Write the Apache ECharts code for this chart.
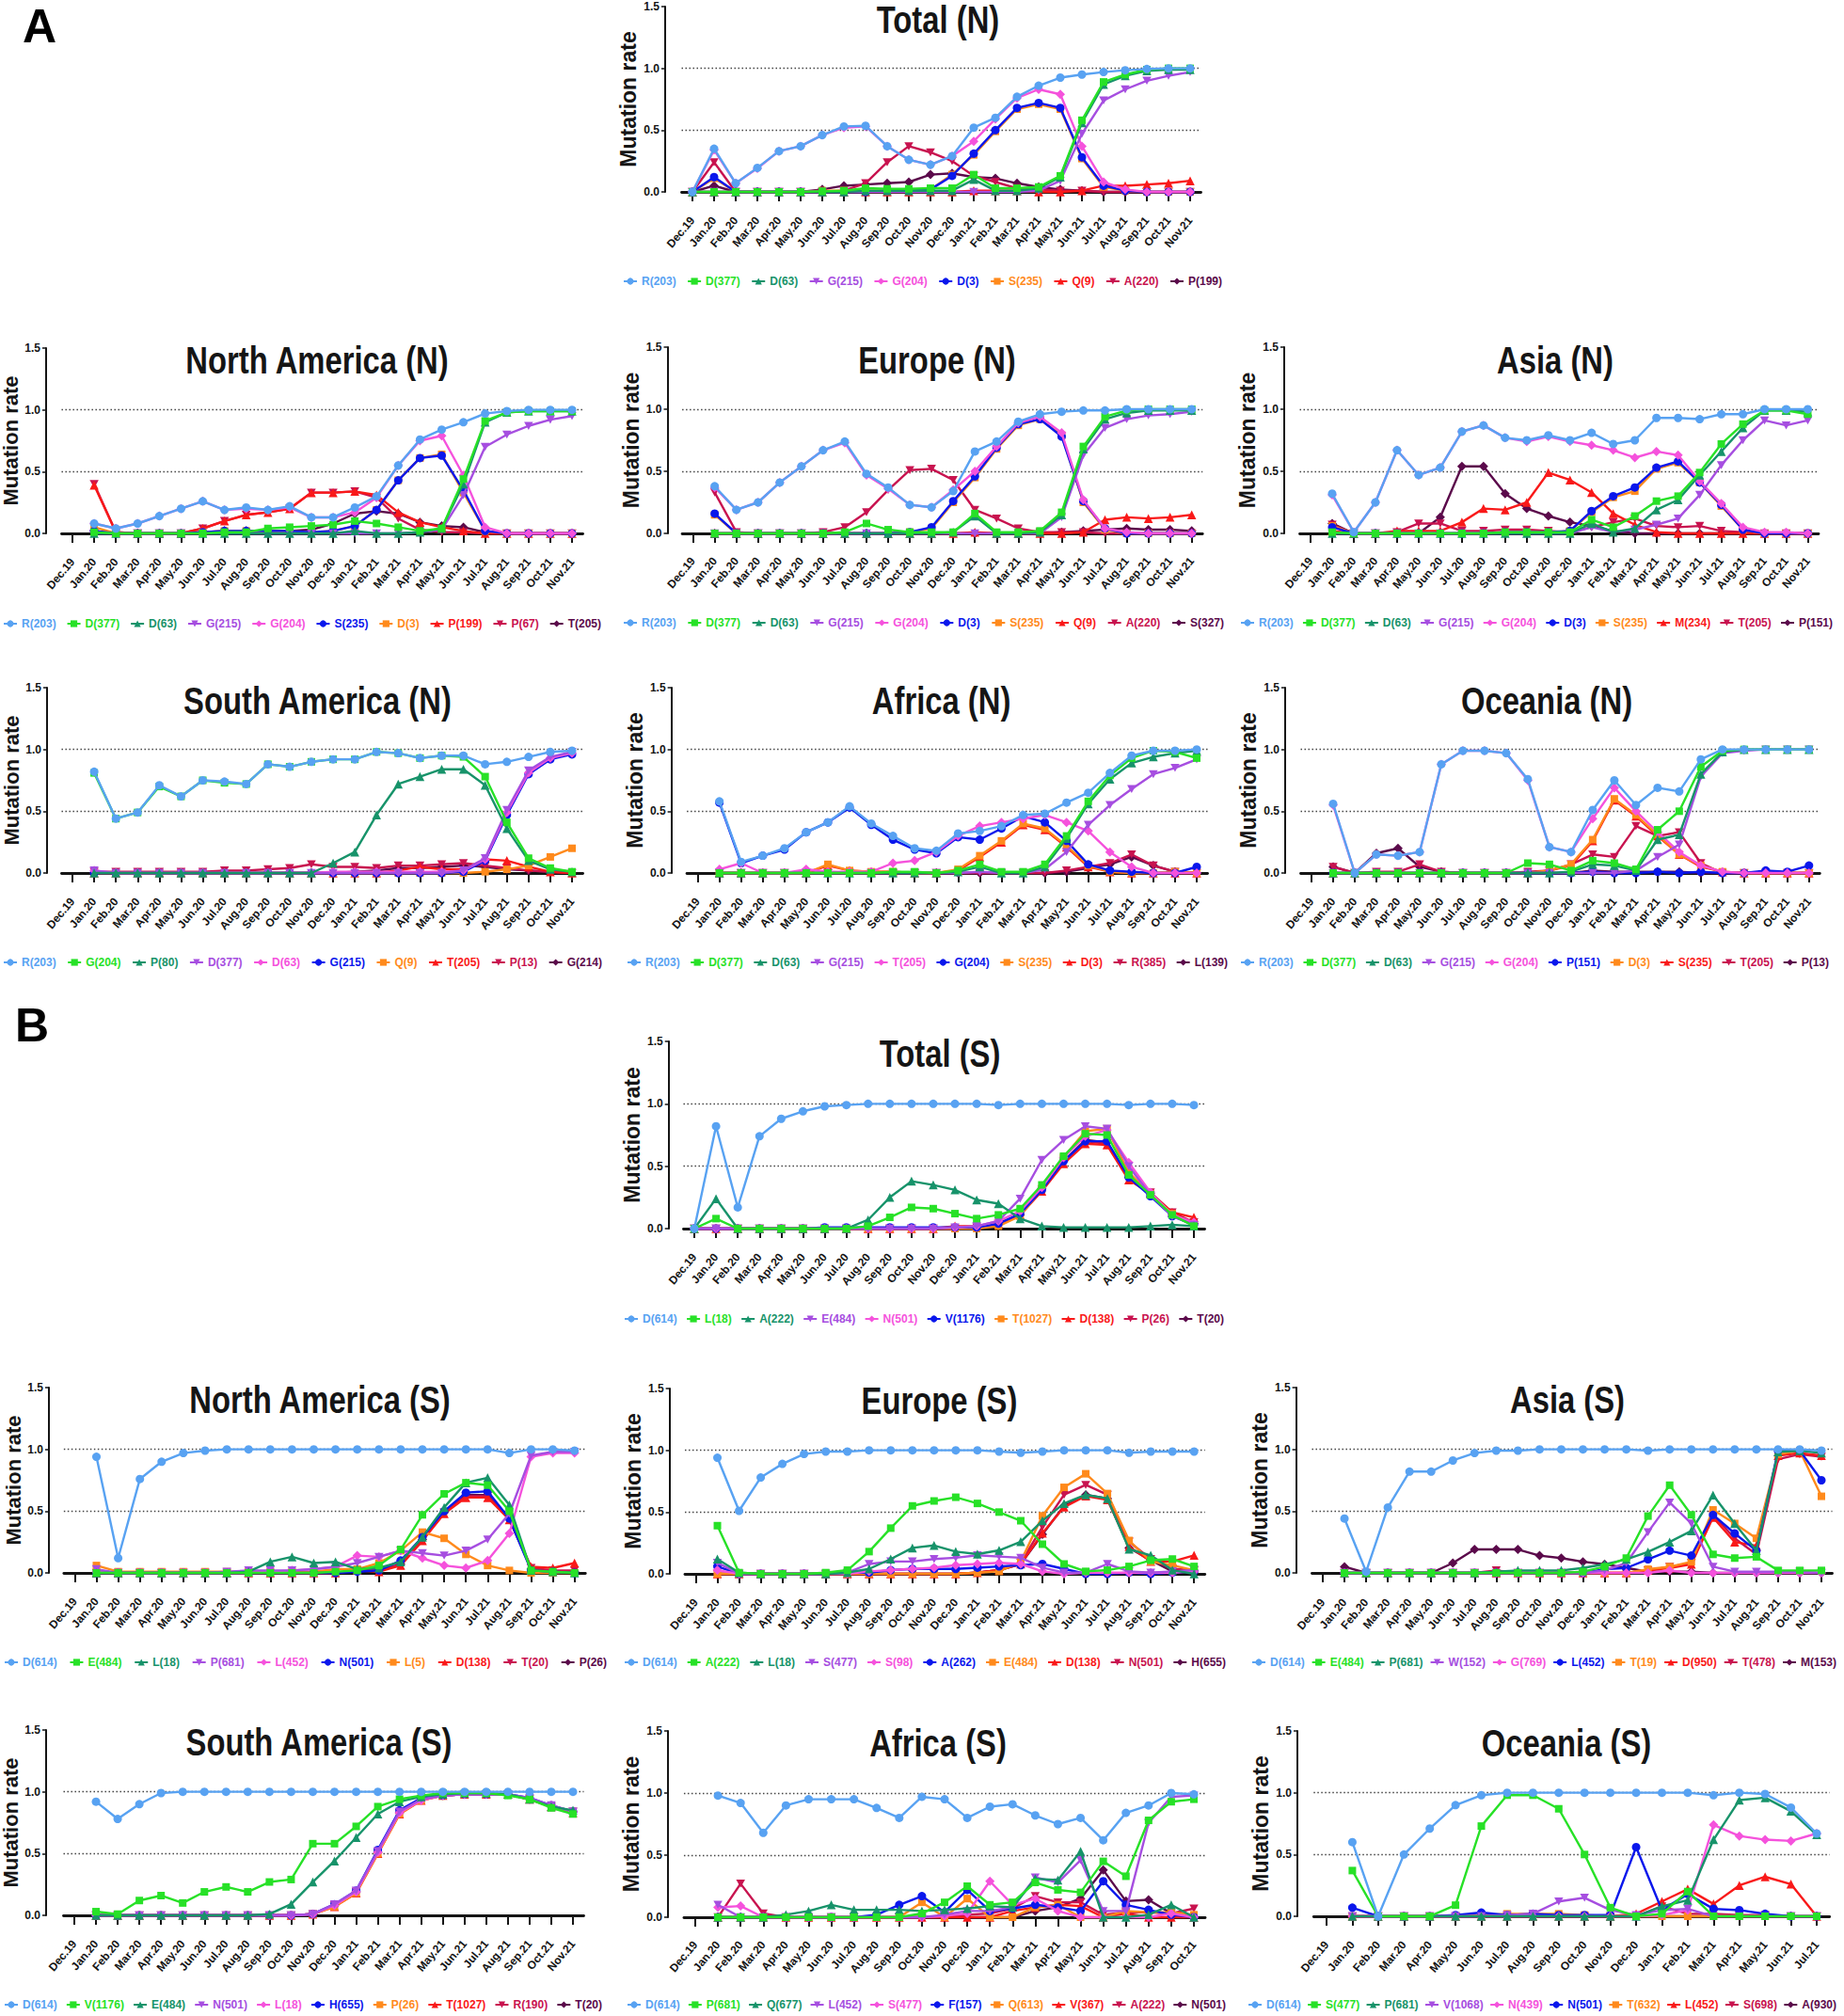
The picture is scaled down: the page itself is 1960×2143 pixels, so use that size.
<!DOCTYPE html>
<html><head><meta charset="utf-8">
<script src="https://cdn.jsdelivr.net/npm/echarts@6/dist/echarts.min.js"></script>
<style>
html,body{margin:0;padding:0;background:#fff;width:1960px;height:2143px;overflow:hidden}
.p{position:absolute;left:0;top:0;width:1960px;height:2143px}
</style>
</head><body>
<script>
const N = null;
const MONTHS = ['Dec.19','Jan.20','Feb.20','Mar.20','Apr.20','May.20','Jun.20','Jul.20','Aug.20','Sep.20','Oct.20','Nov.20','Dec.20','Jan.21','Feb.21','Mar.21','Apr.21','May.21','Jun.21','Jul.21','Aug.21','Sep.21','Oct.21','Nov.21'];
const MONTHS_TO_OCT21 = MONTHS.slice(0, 23);
const MONTHS_TO_JUL21 = MONTHS.slice(0, 20);
const Y_TICKS = [0, 0.5, 1.0, 1.5];

// ---------- Total (N)
const totN_names = ['R(203)','D(377)','D(63)','G(215)','G(204)','D(3)','S(235)','Q(9)','A(220)','P(199)'];
const totN_values = [
 [0,0.35,0.07,0.195,0.33,0.37,0.46,0.53,0.535,0.37,0.26,0.22,0.29,0.52,0.60,0.77,0.86,0.925,0.95,0.97,0.985,0.995,1.0,1.0],
 [0,0,0,0,0,0,0.005,0.01,0.03,0.025,0.025,0.03,0.03,0.14,0.03,0.03,0.04,0.13,0.58,0.89,0.95,0.99,1.0,1.0],
 [0,0,0,0,0,0,0,0,0.01,0.01,0.01,0.01,0.01,0.10,0.01,0.01,0.03,0.12,0.56,0.87,0.94,0.98,0.99,0.99],
 [0,0,0,0,0,0,0,0,0,0,0,0,0,0,0,0,0.01,0.09,0.47,0.74,0.83,0.90,0.94,0.97],
 [0,0.34,0.07,0.19,0.33,0.37,0.46,0.52,0.53,0.37,0.26,0.22,0.29,0.41,0.59,0.76,0.83,0.79,0.37,0.08,0.02,0,0,0],
 [0,0.12,0,0,0,0,0,0,0,0.01,0.01,0.02,0.13,0.31,0.50,0.68,0.72,0.68,0.28,0.05,0.01,0,0,0],
 [0,0.11,0,0,0,0,0.01,0.01,0.01,0.01,0.01,0.02,0.14,0.30,0.49,0.67,0.71,0.67,0.27,0.04,0.01,0,0,0],
 [0,0,0,0,0,0,0,0,0,0,0,0,0,0.01,0.01,0.01,0,0,0.01,0.05,0.05,0.06,0.07,0.09],
 [0,0.24,0,0,0,0,0,0.01,0.07,0.24,0.37,0.32,0.25,0.13,0.08,0.03,0.02,0.01,0.01,0,0,0,0,0],
 [0,0.05,0,0,0,0,0.02,0.05,0.06,0.07,0.08,0.14,0.15,0.12,0.11,0.07,0.04,0.02,0.01,0,0,0,0,0]
];
// ---------- North America (N)
const naN_names = ['R(203)','D(377)','D(63)','G(215)','G(204)','S(235)','D(3)','P(199)','P(67)','T(205)'];
const naN_values = [
 [N,0.08,0.04,0.08,0.14,0.20,0.26,0.19,0.21,0.19,0.22,0.13,0.13,0.21,0.30,0.55,0.76,0.84,0.90,0.97,0.99,1.0,1.0,1.0],
 [N,0.01,0,0,0,0,0,0.01,0.01,0.04,0.05,0.06,0.07,0.10,0.08,0.05,0.02,0.04,0.44,0.91,0.98,0.99,0.99,0.99],
 [N,0,0,0,0,0,0,0,0,0,0,0,0,0.02,0,0,0.01,0.04,0.40,0.90,0.98,0.99,0.99,0.99],
 [N,0,0,0,0,0,0,0,0,0,0,0,0,0,0,0,0.01,0.03,0.31,0.70,0.80,0.87,0.92,0.95],
 [N,0.08,0.04,0.08,0.14,0.20,0.26,0.19,0.20,0.19,0.21,0.13,0.13,0.17,0.29,0.55,0.75,0.79,0.47,0.05,0,0,0,0],
 [N,0.02,0,0,0,0,0.01,0.02,0.02,0.02,0.02,0.01,0.02,0.06,0.19,0.43,0.61,0.63,0.35,0.02,0,0,0,0],
 [N,0.05,0,0,0,0,0.01,0.02,0.02,0.02,0.02,0.01,0.02,0.06,0.19,0.43,0.61,0.64,0.33,0.02,0,0,0,0],
 [N,0.39,0.01,0,0,0,0.04,0.10,0.15,0.17,0.20,0.33,0.33,0.34,0.31,0.17,0.09,0.05,0.02,0,0,0,0,0],
 [N,0.40,0.01,0,0,0,0.04,0.10,0.15,0.17,0.20,0.33,0.33,0.34,0.29,0.12,0.03,0.01,0.01,0,0,0,0,0],
 [N,0.02,0,0,0,0,0.01,0.02,0.02,0.02,0.02,0.03,0.08,0.16,0.18,0.16,0.09,0.06,0.05,0.01,0,0,0,0]
];
// ---------- Europe (N)
const euN_names = ['R(203)','D(377)','D(63)','G(215)','G(204)','D(3)','S(235)','Q(9)','A(220)','S(327)'];
const euN_values = [
 [N,0.38,0.19,0.25,0.41,0.54,0.67,0.74,0.48,0.37,0.23,0.21,0.34,0.66,0.74,0.90,0.96,0.98,0.99,0.99,1.0,1.0,1.0,1.0],
 [N,0,0,0,0,0,0,0.01,0.08,0.03,0.01,0.01,0.01,0.16,0.01,0.01,0.02,0.17,0.70,0.94,0.99,1.0,1.0,1.0],
 [N,0,0,0,0,0,0,0,0,0,0,0,0.01,0.14,0,0,0.01,0.15,0.68,0.92,0.97,0.99,0.99,0.99],
 [N,0,0,0,0,0,0,0,0,0,0,0,0,0,0,0,0,0.13,0.63,0.85,0.92,0.95,0.96,0.98],
 [N,0.37,0.19,0.25,0.41,0.54,0.67,0.73,0.47,0.36,0.23,0.21,0.35,0.50,0.70,0.89,0.94,0.81,0.27,0.04,0.01,0,0,0],
 [N,0.16,0,0,0,0,0,0,0,0,0.01,0.05,0.26,0.46,0.69,0.88,0.92,0.78,0.26,0.04,0,0,0,0],
 [N,0.15,0,0,0,0,0,0,0,0,0.01,0.04,0.25,0.45,0.68,0.87,0.92,0.79,0.25,0.03,0,0,0,0],
 [N,0,0,0,0,0,0,0,0,0,0,0,0,0.01,0,0,0,0,0.01,0.11,0.13,0.12,0.13,0.15],
 [N,0.33,0.01,0,0,0,0.01,0.05,0.17,0.35,0.51,0.52,0.43,0.19,0.12,0.04,0.01,0.01,0.01,0,0,0,0,0],
 [N,0,0,0,0,0,0,0,0,0,0,0,0,0,0,0,0,0.01,0.02,0.03,0.04,0.03,0.03,0.02]
];
// ---------- Asia (N)
const asN_names = ['R(203)','D(377)','D(63)','G(215)','G(204)','D(3)','S(235)','M(234)','T(205)','P(151)'];
const asN_values = [
 [N,0.32,0.01,0.25,0.67,0.47,0.53,0.82,0.87,0.77,0.75,0.79,0.75,0.81,0.72,0.75,0.93,0.93,0.92,0.96,0.96,1.0,1.0,1.0],
 [N,0.01,0,0,0,0,0,0,0,0.01,0.01,0.01,0.01,0.11,0.05,0.14,0.26,0.30,0.49,0.72,0.88,0.99,0.99,0.96],
 [N,0,0,0,0,0,0,0,0,0,0,0,0,0.08,0.01,0.04,0.19,0.27,0.47,0.66,0.85,0.99,0.99,0.98],
 [N,0,0,0,0,0,0,0,0,0,0,0,0,0.05,0.01,0.03,0.07,0.12,0.31,0.55,0.75,0.91,0.87,0.91],
 [N,0.31,0.01,0.25,0.67,0.47,0.53,0.82,0.87,0.77,0.74,0.78,0.74,0.71,0.67,0.61,0.66,0.63,0.42,0.24,0.05,0.01,0.01,0],
 [N,0.05,0,0,0,0,0,0,0,0.01,0.01,0.01,0.02,0.18,0.30,0.37,0.53,0.58,0.41,0.23,0.03,0,0,0],
 [N,0.06,0,0,0,0,0,0,0,0.01,0.01,0.01,0.02,0.17,0.29,0.34,0.52,0.57,0.41,0.22,0.03,0,0,0],
 [N,0.02,0,0,0.02,0.02,0.02,0.09,0.20,0.19,0.25,0.49,0.43,0.33,0.16,0.07,0.01,0,0,0,0,0,0,0],
 [N,0.07,0,0,0.01,0.08,0.08,0.02,0.02,0.03,0.03,0.02,0.01,0.05,0.09,0.12,0.06,0.05,0.06,0.02,0.01,0,0,0],
 [N,0.08,0,0,0,0,0.13,0.54,0.54,0.32,0.20,0.14,0.09,0.06,0.02,0,0,0,0,0,0,0,0,0]
];
// ---------- South America (N)
const saN_names = ['R(203)','G(204)','P(80)','D(377)','D(63)','G(215)','Q(9)','T(205)','P(13)','G(214)'];
const saN_values = [
 [N,0.82,0.44,0.49,0.71,0.62,0.75,0.74,0.72,0.88,0.86,0.90,0.92,0.92,0.98,0.97,0.93,0.95,0.95,0.88,0.90,0.94,0.98,0.99],
 [N,0.81,0.44,0.49,0.70,0.62,0.75,0.73,0.72,0.88,0.86,0.90,0.92,0.92,0.98,0.97,0.93,0.95,0.94,0.78,0.41,0.12,0.04,0.01],
 [N,0,0,0,0,0,0,0,0,0,0,0,0.08,0.17,0.47,0.72,0.78,0.84,0.84,0.71,0.36,0.10,0.03,0.01],
 [N,0.02,0,0,0,0,0,0,0,0,0,0,0,0,0,0,0,0,0.02,0.12,0.51,0.83,0.94,0.98],
 [N,0.02,0,0,0,0,0,0,0,0,0,0,0.01,0.01,0.01,0.01,0.01,0.01,0.02,0.11,0.49,0.81,0.93,0.97],
 [N,0,0,0,0,0,0,0,0,0,0,0,0,0,0,0,0,0,0.01,0.10,0.47,0.80,0.92,0.96],
 [N,0,0,0,0,0,0,0,0,0,0,0,0,0,0,0,0,0,0,0.01,0.03,0.06,0.13,0.20],
 [N,0,0,0,0,0,0,0,0,0,0,0,0,0,0,0.02,0.05,0.03,0.03,0.11,0.10,0.05,0.01,0],
 [N,0.01,0.01,0.01,0.01,0.01,0.01,0.02,0.02,0.03,0.04,0.07,0.05,0.05,0.04,0.06,0.06,0.07,0.08,0.06,0.04,0.02,0.01,0],
 [N,0,0,0,0,0,0,0,0,0,0,0,0,0.01,0.02,0.04,0.04,0.05,0.06,0.05,0.03,0.02,0.01,0]
];
// ---------- Africa (N)
const afN_names = ['R(203)','D(377)','D(63)','G(215)','T(205)','G(204)','S(235)','D(3)','R(385)','L(139)'];
const afN_values = [
 [N,0.58,0.09,0.14,0.20,0.33,0.41,0.54,0.40,0.30,0.20,0.18,0.32,0.34,0.38,0.47,0.48,0.57,0.65,0.81,0.95,0.99,0.99,1.0],
 [N,0,0,0,0,0,0,0,0,0.01,0.01,0,0.02,0.07,0.01,0.01,0.07,0.30,0.58,0.79,0.93,0.99,0.98,0.93],
 [N,0,0,0,0,0,0,0,0,0,0,0,0.01,0.05,0,0,0.05,0.28,0.56,0.76,0.89,0.94,0.97,0.99],
 [N,0,0,0,0,0,0,0,0,0,0,0,0,0.01,0,0,0.03,0.17,0.39,0.55,0.68,0.80,0.85,0.92],
 [N,0.03,0.08,0,0,0.03,0.01,0.01,0.01,0.08,0.10,0.17,0.30,0.38,0.41,0.44,0.47,0.41,0.34,0.17,0.05,0,0,0],
 [N,0.57,0.08,0.14,0.19,0.33,0.41,0.53,0.39,0.27,0.19,0.16,0.29,0.27,0.36,0.46,0.41,0.26,0.07,0.02,0.01,0,0,0.05],
 [N,0,0,0,0,0,0.07,0.02,0.01,0.01,0,0,0.03,0.14,0.26,0.40,0.36,0.22,0.06,0.01,0,0,0.01,0],
 [N,0,0,0,0,0,0.06,0.02,0.01,0.01,0,0,0.02,0.13,0.25,0.39,0.35,0.21,0.05,0.01,0,0,0,0],
 [N,0,0,0,0,0,0,0,0,0,0,0,0,0,0,0,0,0.02,0.05,0.08,0.15,0.06,0.01,0],
 [N,0,0,0,0,0,0,0,0,0,0,0,0,0,0,0,0,0.01,0.04,0.07,0.13,0.06,0.01,0]
];
// ---------- Oceania (N)
const ocN_names = ['R(203)','D(377)','D(63)','G(215)','G(204)','P(151)','D(3)','S(235)','T(205)','P(13)'];
const ocN_values = [
 [N,0.56,0,0.15,0.14,0.17,0.88,0.99,0.99,0.97,0.76,0.21,0.17,0.51,0.75,0.55,0.69,0.66,0.92,1.0,1.0,1.0,1.0,1.0],
 [N,0,0,0,0,0,0,0,0,0,0.08,0.07,0.02,0.10,0.08,0.03,0.35,0.50,0.86,0.99,1.0,1.0,1.0,1.0],
 [N,0,0,0,0,0,0,0,0,0,0,0,0.01,0.07,0.06,0.02,0.27,0.31,0.80,0.98,1.0,1.0,1.0,1.0],
 [N,0,0,0,0,0,0,0,0,0,0,0,0,0,0,0.02,0.13,0.23,0.78,0.97,0.99,1.0,1.0,1.0],
 [N,0.55,0,0.15,0.14,0.17,0.88,0.99,0.99,0.97,0.75,0.21,0.17,0.44,0.69,0.50,0.33,0.17,0.06,0.01,0,0,0,0],
 [N,0,0,0,0,0,0,0,0,0,0,0,0,0.01,0,0,0.01,0,0.01,0,0,0.02,0.01,0.06],
 [N,0,0,0,0,0,0,0,0,0,0,0.02,0.07,0.27,0.60,0.47,0.31,0.15,0.06,0.01,0,0,0,0],
 [N,0,0,0,0,0,0,0,0,0,0,0.02,0.06,0.26,0.59,0.46,0.30,0.15,0.05,0.01,0,0,0,0],
 [N,0.05,0,0.01,0.01,0.07,0.01,0,0,0,0.01,0.02,0.07,0.15,0.13,0.38,0.30,0.33,0.08,0,0,0,0,0],
 [N,0.05,0,0.16,0.20,0.05,0.01,0,0,0,0,0,0,0.02,0.01,0.01,0.01,0.01,0,0,0,0,0,0]
];
// ---------- Total (S)
const totS_names = ['D(614)','L(18)','A(222)','E(484)','N(501)','V(1176)','T(1027)','D(138)','P(26)','T(20)'];
const totS_values = [
 [0,0.82,0.17,0.74,0.88,0.94,0.98,0.99,1.0,1.0,1.0,1.0,1.0,1.0,0.99,1.0,1.0,1.0,1.0,1.0,0.99,1.0,1.0,0.99],
 [0,0.08,0,0,0,0,0,0,0.02,0.09,0.17,0.16,0.12,0.08,0.11,0.16,0.35,0.58,0.76,0.75,0.43,0.27,0.11,0.02],
 [0,0.24,0,0,0,0,0,0,0.07,0.25,0.38,0.35,0.31,0.23,0.20,0.08,0.02,0.01,0.01,0.01,0.01,0.02,0.03,0.02],
 [0,0,0,0,0,0,0,0,0,0,0,0,0.01,0.02,0.06,0.24,0.55,0.71,0.82,0.80,0.50,0.27,0.10,0.03],
 [0,0,0,0,0,0,0,0,0,0,0,0,0.01,0.02,0.06,0.14,0.33,0.57,0.74,0.79,0.53,0.29,0.11,0.05],
 [0,0,0,0,0,0,0.01,0.01,0.01,0.01,0.01,0.01,0.01,0.01,0.04,0.12,0.31,0.54,0.70,0.70,0.41,0.26,0.10,0.03],
 [0,0,0,0,0,0,0,0,0,0,0,0,0,0,0.02,0.10,0.32,0.57,0.78,0.80,0.45,0.28,0.12,0.03],
 [0,0,0,0,0,0,0,0,0,0,0,0,0.02,0.02,0.04,0.11,0.30,0.52,0.68,0.67,0.39,0.28,0.13,0.09],
 [0,0,0,0,0,0,0,0,0,0,0,0,0,0.01,0.04,0.11,0.31,0.53,0.70,0.68,0.40,0.29,0.13,0.05],
 [0,0,0,0,0,0,0,0,0,0,0,0,0,0.01,0.04,0.11,0.32,0.54,0.71,0.69,0.41,0.28,0.12,0.04]
];
// ---------- North America (S)
const naS_names = ['D(614)','E(484)','L(18)','P(681)','L(452)','N(501)','L(5)','D(138)','T(20)','P(26)'];
const naS_values = [
 [N,0.94,0.12,0.76,0.90,0.97,0.99,1.0,1.0,1.0,1.0,1.0,1.0,1.0,1.0,1.0,1.0,1.0,1.0,1.0,0.97,1.0,1.0,0.99],
 [N,0,0,0,0,0,0,0,0,0,0,0,0.01,0.02,0.06,0.19,0.47,0.64,0.73,0.71,0.50,0.02,0.01,0],
 [N,0,0,0,0,0,0,0,0.01,0.09,0.13,0.08,0.09,0.03,0.04,0.09,0.29,0.53,0.73,0.77,0.55,0.02,0.01,0],
 [N,0.03,0,0,0,0,0,0.01,0.02,0.02,0.02,0.03,0.05,0.08,0.13,0.18,0.16,0.14,0.18,0.27,0.48,0.95,0.98,0.98],
 [N,0.01,0,0,0,0,0,0,0,0.01,0.02,0.03,0.05,0.14,0.13,0.18,0.12,0.06,0.04,0.10,0.32,0.94,0.97,0.97],
 [N,0,0,0,0,0,0,0,0,0,0,0,0,0.01,0.02,0.10,0.29,0.50,0.65,0.66,0.44,0.02,0.01,0],
 [N,0.06,0.01,0.01,0.01,0.01,0.01,0.01,0.01,0.01,0.01,0.01,0.03,0.03,0.08,0.18,0.33,0.28,0.15,0.06,0.02,0,0,0],
 [N,0,0,0,0,0,0,0,0,0,0,0,0,0.02,0.01,0.06,0.26,0.48,0.61,0.61,0.43,0.05,0.04,0.08],
 [N,0,0,0,0,0,0,0,0,0,0,0,0,0.02,0.02,0.07,0.27,0.49,0.62,0.62,0.44,0.04,0.02,0.02],
 [N,0,0,0,0,0,0,0,0,0,0,0,0,0.02,0.02,0.07,0.27,0.49,0.63,0.63,0.44,0.03,0.01,0.01]
];
// ---------- Europe (S)
const euS_names = ['D(614)','A(222)','L(18)','S(477)','S(98)','A(262)','E(484)','D(138)','N(501)','H(655)'];
const euS_values = [
 [N,0.94,0.51,0.78,0.89,0.97,0.99,0.99,1.0,1.0,1.0,1.0,1.0,1.0,0.99,0.98,0.99,1.0,1.0,1.0,0.98,0.99,0.99,0.99],
 [N,0.39,0.01,0,0,0,0.01,0.03,0.18,0.37,0.55,0.59,0.62,0.57,0.50,0.43,0.24,0.08,0.02,0.03,0.06,0.11,0.12,0.06],
 [N,0.12,0.01,0,0,0,0,0.01,0.04,0.12,0.21,0.23,0.18,0.16,0.19,0.26,0.43,0.57,0.64,0.61,0.20,0.15,0.03,0],
 [N,0.09,0,0,0,0,0,0.01,0.08,0.10,0.10,0.12,0.13,0.15,0.14,0.13,0.05,0.01,0.01,0.08,0.02,0.01,0.02,0.03],
 [N,0.03,0,0,0,0,0,0,0.02,0.03,0.04,0.05,0.07,0.08,0.09,0.08,0.02,0,0.01,0.01,0.01,0.01,0.01,0.02],
 [N,0.06,0,0,0,0,0,0.01,0.01,0.03,0.04,0.04,0.04,0.05,0.06,0.07,0.08,0.04,0,0,0.01,0,0.01,0.02],
 [N,0,0,0,0,0,0,0,0,0,0,0,0,0.01,0.02,0.10,0.47,0.70,0.81,0.65,0.27,0.10,0.07,0.03],
 [N,0,0,0,0,0,0,0,0,0,0,0,0,0.01,0.03,0.08,0.33,0.54,0.63,0.60,0.22,0.10,0.10,0.15],
 [N,0,0,0,0,0,0,0,0,0,0,0,0,0.01,0.03,0.09,0.38,0.64,0.72,0.64,0.26,0.12,0.04,0.03],
 [N,0,0,0,0,0,0,0,0,0,0,0,0,0.01,0.03,0.08,0.32,0.55,0.64,0.61,0.21,0.11,0.02,0.02]
];
// ---------- Asia (S)
const asS_names = ['D(614)','E(484)','P(681)','W(152)','G(769)','L(452)','T(19)','D(950)','T(478)','M(153)'];
const asS_values = [
 [N,0.44,0.01,0.53,0.82,0.82,0.91,0.97,0.99,0.99,1.0,1.0,1.0,1.0,1.0,0.99,1.0,1.0,1.0,1.0,1.0,1.0,1.0,0.99],
 [N,0,0,0,0,0,0,0,0,0,0,0,0.01,0.05,0.12,0.46,0.71,0.47,0.15,0.12,0.13,0.02,0.02,0.02],
 [N,0,0,0,0,0,0,0,0.01,0.02,0.02,0.02,0.04,0.07,0.11,0.17,0.25,0.34,0.63,0.40,0.18,0.98,0.99,0.97],
 [N,0,0,0,0,0,0,0,0,0,0,0,0,0.02,0.08,0.33,0.57,0.40,0.05,0.01,0.01,0.01,0.01,0],
 [N,0,0,0,0,0,0,0,0,0,0,0,0,0,0,0,0.02,0,0,0,0,0,0,0],
 [N,0,0,0,0,0,0,0,0,0,0,0,0,0.03,0.04,0.11,0.18,0.14,0.47,0.32,0.18,0.99,0.99,0.75],
 [N,0,0,0,0,0,0,0,0,0,0,0,0,0,0,0.03,0.05,0.09,0.51,0.40,0.28,0.96,0.99,0.62],
 [N,0,0,0,0,0,0,0,0,0,0,0,0,0,0,0.02,0.04,0.07,0.45,0.25,0.22,0.95,0.97,0.95],
 [N,0,0,0,0,0,0,0,0.02,0,0,0,0,0,0,0.02,0.05,0.08,0.47,0.28,0.15,0.92,0.96,0.94],
 [N,0.05,0,0,0,0,0.08,0.19,0.19,0.19,0.14,0.12,0.09,0.07,0.04,0.01,0.01,0.01,0,0,0,0,0,0]
];
// ---------- South America (S)
const saS_names = ['D(614)','V(1176)','E(484)','N(501)','L(18)','H(655)','P(26)','T(1027)','R(190)','T(20)'];
const saS_values = [
 [N,0.92,0.78,0.90,0.99,1.0,1.0,1.0,1.0,1.0,1.0,1.0,1.0,1.0,1.0,1.0,1.0,1.0,1.0,1.0,1.0,1.0,1.0,1.0],
 [N,0.03,0.01,0.12,0.16,0.10,0.19,0.23,0.19,0.27,0.29,0.58,0.58,0.72,0.88,0.94,0.97,0.99,0.99,0.99,0.97,0.94,0.87,0.82],
 [N,0,0,0,0,0,0,0,0,0.01,0.09,0.27,0.44,0.63,0.82,0.92,0.96,0.98,0.99,0.99,0.98,0.94,0.88,0.85],
 [N,0,0,0,0,0,0,0,0,0,0,0.01,0.09,0.20,0.52,0.84,0.94,0.97,0.98,0.98,0.98,0.95,0.89,0.84],
 [N,0,0,0,0,0,0,0,0,0,0,0.01,0.08,0.19,0.51,0.83,0.93,0.97,0.98,0.98,0.98,0.94,0.89,0.84],
 [N,0,0,0,0,0,0,0,0,0,0,0.01,0.09,0.20,0.53,0.85,0.95,0.97,0.98,0.98,0.98,0.95,0.89,0.84],
 [N,0,0,0,0,0,0,0,0,0,0,0.01,0.07,0.18,0.50,0.82,0.93,0.97,0.98,0.98,0.98,0.94,0.88,0.83],
 [N,0,0,0,0,0,0,0,0,0,0,0.01,0.07,0.18,0.50,0.82,0.93,0.97,0.98,0.98,0.98,0.94,0.88,0.83],
 [N,0,0,0,0,0,0,0,0,0,0,0.01,0.08,0.19,0.51,0.83,0.94,0.97,0.98,0.98,0.98,0.94,0.88,0.84],
 [N,0,0,0,0,0,0,0,0,0,0,0.01,0.08,0.19,0.51,0.83,0.94,0.97,0.98,0.98,0.98,0.94,0.88,0.84]
];
// ---------- Africa (S)  (Dec.19 - Oct.21)
const afS_names = ['D(614)','P(681)','Q(677)','L(452)','S(477)','F(157)','Q(613)','V(367)','A(222)','N(501)'];
const afS_values = [
 [N,0.98,0.92,0.68,0.90,0.95,0.95,0.95,0.88,0.80,0.97,0.95,0.80,0.89,0.91,0.82,0.75,0.80,0.62,0.84,0.90,1.0,0.99],
 [N,0,0,0,0,0,0,0,0,0,0.03,0.12,0.25,0.10,0.12,0.28,0.22,0.20,0.45,0.33,0.78,0.93,0.95],
 [N,0,0,0,0.02,0.05,0.10,0.06,0.06,0.06,0.05,0.06,0.07,0.09,0.08,0.31,0.30,0.53,0,0,0.02,0.10,0],
 [N,0.10,0,0,0,0,0,0,0,0,0,0.02,0.05,0.05,0.08,0.32,0.28,0.46,0.05,0.05,0.76,0.97,0.98],
 [N,0.08,0.09,0,0,0,0,0,0,0,0,0.01,0.03,0.29,0.10,0.15,0.05,0,0,0,0,0.03,0],
 [N,0,0,0,0,0,0,0,0.02,0.10,0.17,0.04,0.22,0.05,0.07,0.10,0.08,0.05,0.29,0.10,0.06,0.02,0],
 [N,0,0,0,0,0,0,0,0,0,0.12,0,0.15,0,0,0.08,0.10,0,0,0.05,0.04,0.04,0.02],
 [N,0,0,0,0,0,0,0,0,0,0,0,0,0,0.05,0.08,0.10,0.09,0,0.03,0,0,0],
 [N,0,0.27,0.03,0,0,0,0,0,0,0,0,0.02,0.03,0.07,0.17,0.12,0.12,0.02,0.04,0.04,0.03,0.07],
 [N,0,0,0,0,0,0,0,0,0,0,0,0,0,0,0.05,0.08,0.15,0.38,0.13,0.14,0.03,0]
];
// ---------- Oceania (S)  (Dec.19 - Jul.21)
const ocS_names = ['D(614)','S(477)','P(681)','V(1068)','N(439)','N(501)','T(632)','L(452)','S(698)','A(930)'];
const ocS_values = [
 [N,0.60,0,0.50,0.71,0.90,0.98,1.0,1.0,1.0,1.0,1.0,1.0,1.0,1.0,0.98,1.0,0.99,0.88,0.67],
 [N,0.37,0,0,0,0.09,0.73,0.98,0.98,0.87,0.50,0.07,0,0.02,0.20,0,0,0,0,0],
 [N,0,0,0,0,0,0,0,0,0,0,0,0,0.08,0.13,0.62,0.94,0.96,0.85,0.66],
 [N,0,0,0,0,0,0,0.01,0.02,0.12,0.15,0.05,0.01,0.05,0.06,0,0,0,0,0],
 [N,0,0,0,0,0,0,0,0,0,0,0,0,0.01,0.05,0.74,0.65,0.62,0.61,0.67],
 [N,0.07,0,0,0,0.01,0.03,0.01,0.02,0.01,0.01,0.01,0.56,0.05,0.18,0.06,0.05,0.02,0,0],
 [N,0,0,0,0,0,0.01,0.02,0.02,0.02,0.01,0,0,0,0,0,0,0,0,0],
 [N,0,0,0,0,0,0,0,0,0,0,0,0.02,0.12,0.22,0.10,0.25,0.32,0.26,0],
 [N,0,0,0,0,0,0,0,0,0,0,0,0,0.08,0.02,0.02,0.01,0.01,0,0],
 [N,0,0,0,0,0,0,0,0,0,0,0,0,0,0,0,0,0,0,0]
];

// ---------- styles (by series position)
const COLORS = ['#58a2f2','#27e127','#17936a','#a64ee0','#f552dc','#0a17ec','#ff8a1c','#f91919','#c8134f','#5b0a4b'];
const TRI_DOWN = 'path://M0,0L10,0L5,8.66Z';
const SYMBOLS = ['circle','rect','triangle',TRI_DOWN,'diamond','circle','rect','triangle',TRI_DOWN,'diamond'];
const SYMBOL_SIZES = [9,8,9.5,[9.5,8.5],10,9,8,9.5,[9.5,8.5],10];
const SANS = "'Liberation Sans',Arial,sans-serif";
const INK = '#151515';
const LEG_ICON_W = 14;
const LEG_FONT = 12;

// ---------- panel layout (page pixels)
const PANELS = [
 {title:'Total (N)', cats:MONTHS, names:totN_names, values:totN_values, yx:707, cx0:736, cx1:1265, y15:7, y0:204, xay:219, ly:300, lx0:662, lx1:1289, tx:997, ty:21},
 {title:'North America (N)', cats:MONTHS, names:naN_names, values:naN_values, yx:49, cx0:77, cx1:608, y15:370, y0:567, xay:582, ly:664, lx0:3, lx1:629, tx:337, ty:383},
 {title:'Europe (N)', cats:MONTHS, names:euN_names, values:euN_values, yx:709.5, cx0:736.6, cx1:1266.7, y15:369, y0:567, xay:581, ly:663, lx0:662, lx1:1291, tx:996, ty:383},
 {title:'Asia (N)', cats:MONTHS, names:asN_names, values:asN_values, yx:1365, cx0:1393, cx1:1921.5, y15:369, y0:567, xay:581, ly:663, lx0:1318, lx1:1938, tx:1653, ty:383},
 {title:'South America (N)', cats:MONTHS, names:saN_names, values:saN_values, yx:50, cx0:77, cx1:608, y15:731, y0:928, xay:943, ly:1024, lx0:3, lx1:630, tx:337.5, ty:745},
 {title:'Africa (N)', cats:MONTHS, names:afN_names, values:afN_values, yx:713.6, cx0:741.6, cx1:1272, y15:731, y0:928, xay:943, ly:1024, lx0:666, lx1:1295, tx:1000.6, ty:745},
 {title:'Oceania (N)', cats:MONTHS, names:ocN_names, values:ocN_values, yx:1366, cx0:1394, cx1:1922.8, y15:731, y0:928, xay:943, ly:1024, lx0:1318, lx1:1934, tx:1644, ty:745},
 {title:'Total (S)', cats:MONTHS, names:totS_names, values:totS_values, yx:710.7, cx0:738, cx1:1269, y15:1107, y0:1306, xay:1321, ly:1403, lx0:663, lx1:1291, tx:999, ty:1120},
 {title:'North America (S)', cats:MONTHS, names:naS_names, values:naS_values, yx:52, cx0:79.4, cx1:610.7, y15:1475, y0:1672, xay:1687, ly:1768, lx0:4, lx1:635, tx:340, ty:1488},
 {title:'Europe (S)', cats:MONTHS, names:euS_names, values:euS_values, yx:711.6, cx0:739.5, cx1:1269.2, y15:1476, y0:1673, xay:1688, ly:1768, lx0:663, lx1:1293, tx:998.5, ty:1489},
 {title:'Asia (S)', cats:MONTHS, names:asS_names, values:asS_values, yx:1377.6, cx0:1406, cx1:1936, y15:1475, y0:1672, xay:1688, ly:1768, lx0:1330, lx1:1942, tx:1666, ty:1488},
 {title:'South America (S)', cats:MONTHS, names:saS_names, values:saS_values, yx:49, cx0:79, cx1:609, y15:1839, y0:2036, xay:2051, ly:2132, lx0:4, lx1:630, tx:339, ty:1852},
 {title:'Africa (S)', cats:MONTHS_TO_OCT21, names:afS_names, values:afS_values, yx:710, cx0:739, cx1:1269, y15:1840, y0:2038, xay:2052, ly:2132, lx0:666, lx1:1293, tx:997, ty:1853},
 {title:'Oceania (S)', cats:MONTHS_TO_JUL21, names:ocS_names, values:ocS_values, yx:1379, cx0:1410, cx1:1931, y15:1840, y0:2037, xay:2052, ly:2132, lx0:1326, lx1:1942, tx:1665, ty:1853}
];

const measureCtx = document.createElement('canvas').getContext('2d');
measureCtx.font = "bold " + LEG_FONT + "px 'Liberation Sans', Arial, sans-serif";
function legendGap(p) {
  const used = p.names.reduce((s, nm) => s + LEG_ICON_W + 5 + measureCtx.measureText(nm).width, 0);
  return Math.max(4, (p.lx1 - p.lx0 - used) / (p.names.length - 1));
}

function buildPanel(p, extraGraphics) {
  const el = document.createElement('div');
  el.className = 'p';
  document.body.appendChild(el);
  const chart = echarts.init(el, null, {renderer: 'svg', width: 1960, height: 2143});
  const n = p.cats.length;
  const band = (p.cx1 - p.cx0) / (n - 1);
  const gl = p.cx0 - band / 2;
  const nearLeftEdge = p.yx < 100;
  const graphics = [{
    type: 'text', x: p.tx, y: p.ty, scaleX: 0.82, silent: true,
    style: {text: p.title, fill: INK, fontSize: 40, fontWeight: 'bold', fontFamily: SANS,
            textAlign: 'center', textVerticalAlign: 'middle', align: 'center', verticalAlign: 'middle'}
  }].concat(extraGraphics || []);
  chart.setOption({
    animation: false,
    grid: {left: gl, top: p.y15, width: band * n, height: p.y0 - p.y15, containLabel: false, outerBoundsMode: 'none'},
    xAxis: {
      type: 'category', data: p.cats, boundaryGap: true, offset: p.xay - p.y0,
      axisLine: {show: true, lineStyle: {color: INK, width: 2.8}},
      axisTick: {show: true, alignWithLabel: true, length: 10, lineStyle: {color: INK, width: 2}},
      axisLabel: {interval: 0, rotate: 50, margin: 13, color: INK, fontFamily: SANS, fontWeight: 'bold', fontSize: 12},
      splitLine: {show: false}
    },
    yAxis: {
      type: 'value', min: Y_TICKS[0], max: Y_TICKS[Y_TICKS.length - 1], interval: 0.5, offset: gl - p.yx,
      name: 'Mutation rate', nameLocation: 'middle', nameGap: nearLeftEdge ? 24 : 29,
      nameTextStyle: {color: INK, fontFamily: SANS, fontWeight: 'bold', fontSize: nearLeftEdge ? 22 : 23, lineHeight: 20},
      axisLine: {show: true, lineStyle: {color: INK, width: 2}},
      axisTick: {show: true, length: 4, lineStyle: {color: INK, width: 1.5}},
      axisLabel: {formatter: v => v.toFixed(1), margin: 6, color: INK, fontFamily: SANS, fontWeight: 'bold', fontSize: 12},
      splitLine: {show: true, showMaxLine: false, showMinLine: true, lineStyle: {type: [1.5, 2.5], color: '#444', width: 1.4}}
    },
    legend: {
      left: p.lx0, top: p.ly - 7, width: 900, orient: 'horizontal', padding: 0,
      itemWidth: LEG_ICON_W, itemHeight: 9, itemGap: legendGap(p), selectedMode: false,
      textStyle: {fontFamily: SANS, fontWeight: 'bold', fontSize: LEG_FONT},
      data: p.names.map((nm, i) => ({name: nm, textStyle: {color: COLORS[i]}}))
    },
    graphic: graphics,
    series: p.names.map((nm, i) => ({
      type: 'line', name: nm, data: p.values[i], z: 20 - i,
      symbol: SYMBOLS[i], symbolSize: SYMBOL_SIZES[i], showSymbol: true, showAllSymbol: true,
      clip: false, connectNulls: false,
      lineStyle: {width: 2.4, color: COLORS[i]},
      itemStyle: {color: COLORS[i], borderWidth: 0},
      emphasis: {disabled: true}
    }))
  });
}

const PANEL_LETTERS = [
  {type: 'text', x: 42, y: 28, silent: true, style: {text: 'A', fill: '#000', fontSize: 50, fontWeight: 'bold', fontFamily: SANS, textAlign: 'center', textVerticalAlign: 'middle', align: 'center', verticalAlign: 'middle'}},
  {type: 'text', x: 34, y: 1090, silent: true, style: {text: 'B', fill: '#000', fontSize: 50, fontWeight: 'bold', fontFamily: SANS, textAlign: 'center', textVerticalAlign: 'middle', align: 'center', verticalAlign: 'middle'}}
];

PANELS.forEach((p, i) => buildPanel(p, i === 0 ? PANEL_LETTERS : null));
</script>
</body></html>
